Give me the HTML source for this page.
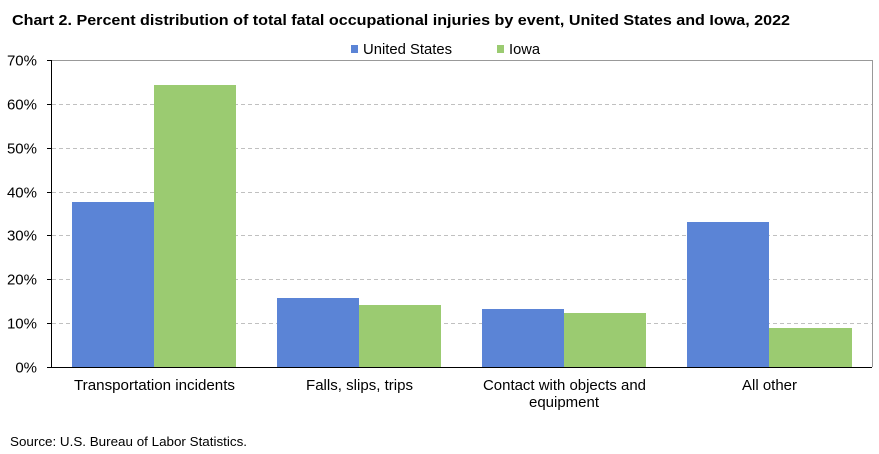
<!DOCTYPE html>
<html><head><meta charset="utf-8"><style>
html,body{margin:0;padding:0;background:#fff;}
svg{display:block;}
text{font-family:"Liberation Sans",Arial,sans-serif;fill:#000;}
</style></head><body>
<svg width="879" height="454" viewBox="0 0 879 454" xmlns="http://www.w3.org/2000/svg">
<rect width="879" height="454" fill="#fff"/>
<text x="12" y="25" font-size="15" font-weight="bold" textLength="778" lengthAdjust="spacingAndGlyphs">Chart 2. Percent distribution of total fatal occupational injuries by event, United States and Iowa, 2022</text>
<!-- legend -->
<rect x="351" y="45" width="7" height="8" fill="#5B84D6"/>
<text x="363" y="54" font-size="14.5" textLength="89" lengthAdjust="spacingAndGlyphs">United States</text>
<rect x="497" y="45" width="7" height="8" fill="#9BCB71"/>
<text x="509" y="54" font-size="14.5" textLength="31" lengthAdjust="spacingAndGlyphs">Iowa</text>
<!-- plot frame -->
<line x1="51" y1="60.5" x2="872" y2="60.5" stroke="#999" stroke-width="1"/>
<line x1="872.5" y1="60" x2="872.5" y2="367" stroke="#999" stroke-width="1"/>
<!-- gridlines -->
<g stroke="#C0C0C0" stroke-width="1" stroke-dasharray="4,3">
<line x1="52" y1="104.5" x2="872" y2="104.5"/>
<line x1="52" y1="148.5" x2="872" y2="148.5"/>
<line x1="52" y1="192.5" x2="872" y2="192.5"/>
<line x1="52" y1="235.5" x2="872" y2="235.5"/>
<line x1="52" y1="279.5" x2="872" y2="279.5"/>
<line x1="52" y1="323.5" x2="872" y2="323.5"/>
</g>
<!-- bars -->
<g>
<rect x="72" y="202" width="82" height="165" fill="#5B84D6"/>
<rect x="154" y="85" width="82" height="282" fill="#9BCB71"/>
<rect x="277" y="298" width="82" height="69" fill="#5B84D6"/>
<rect x="359" y="305" width="82" height="62" fill="#9BCB71"/>
<rect x="482" y="309" width="82" height="58" fill="#5B84D6"/>
<rect x="564" y="313" width="82" height="54" fill="#9BCB71"/>
<rect x="687" y="222" width="82" height="145" fill="#5B84D6"/>
<rect x="769" y="328" width="83" height="39" fill="#9BCB71"/>
</g>
<!-- axes -->
<line x1="51.5" y1="60" x2="51.5" y2="367.5" stroke="#000" stroke-width="1"/>
<line x1="47" y1="367.5" x2="872" y2="367.5" stroke="#000" stroke-width="1"/>
<g stroke="#000" stroke-width="1">
<line x1="47" y1="60.5" x2="51" y2="60.5"/>
<line x1="47" y1="104.5" x2="51" y2="104.5"/>
<line x1="47" y1="148.5" x2="51" y2="148.5"/>
<line x1="47" y1="192.5" x2="51" y2="192.5"/>
<line x1="47" y1="235.5" x2="51" y2="235.5"/>
<line x1="47" y1="279.5" x2="51" y2="279.5"/>
<line x1="47" y1="323.5" x2="51" y2="323.5"/>
</g>
<!-- y labels -->
<g font-size="15" text-anchor="end">
<text x="37" y="65.5">70%</text>
<text x="37" y="109.5">60%</text>
<text x="37" y="153.5">50%</text>
<text x="37" y="197.5">40%</text>
<text x="37" y="240.5">30%</text>
<text x="37" y="284.5">20%</text>
<text x="37" y="328.5">10%</text>
<text x="37" y="372.5">0%</text>
</g>
<!-- x labels -->
<g font-size="15">
<text x="74" y="390" textLength="161" lengthAdjust="spacingAndGlyphs">Transportation incidents</text>
<text x="306" y="390" textLength="107" lengthAdjust="spacingAndGlyphs">Falls, slips, trips</text>
<text x="483" y="390" textLength="163" lengthAdjust="spacingAndGlyphs">Contact with objects and</text>
<text x="529" y="407" textLength="70" lengthAdjust="spacingAndGlyphs">equipment</text>
<text x="742" y="390" textLength="55" lengthAdjust="spacingAndGlyphs">All other</text>
</g>
<text x="10" y="446" font-size="13" textLength="237" lengthAdjust="spacingAndGlyphs">Source: U.S. Bureau of Labor Statistics.</text>
</svg>
</body></html>
